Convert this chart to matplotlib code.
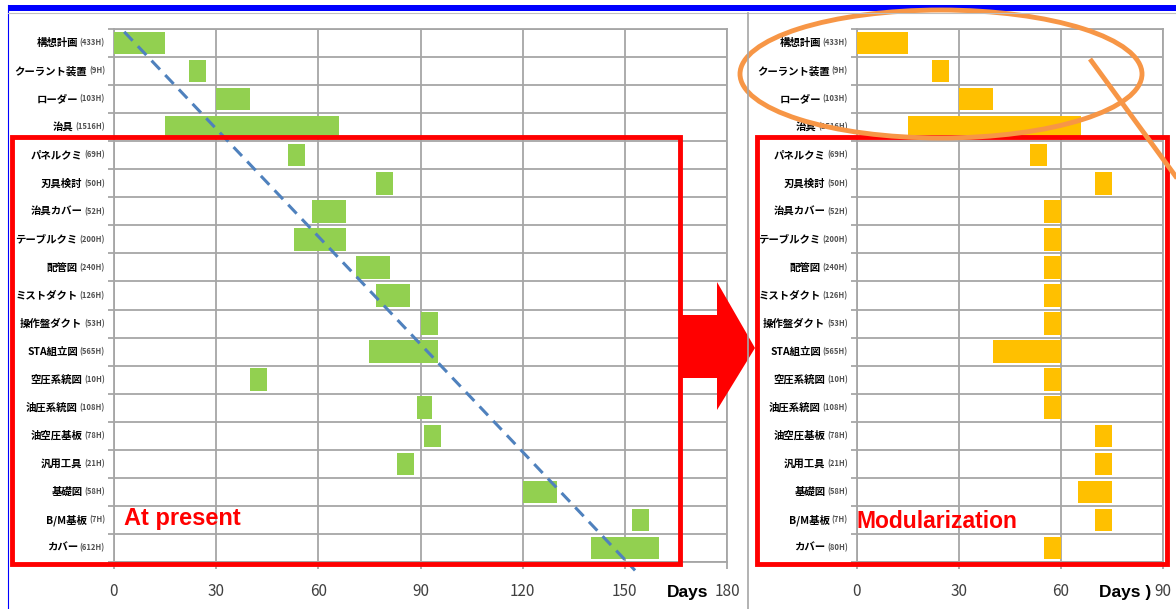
import numpy as np
import matplotlib.pyplot as plt
from matplotlib.patches import Rectangle, Ellipse, Polygon

plt.rcParams['font.family'] = ['Noto Sans CJK JP', 'DejaVu Sans']

# tasks, top to bottom
tasks = ["構想計画", "クーラント装置", "ローダー", "治具", "パネルクミ", "刃具検討",
         "治具カバー", "テーブルクミ", "配管図", "ミストダクト", "操作盤ダクト",
         "STA組立図", "空圧系統図", "油圧系統図", "油空圧基板", "汎用工具",
         "基礎図", "B/M基板", "カバー"]
hours_now = [433, 9, 103, 1516, 69, 50, 52, 200, 240, 126, 53, 565, 10, 108, 78, 21, 58, 7, 612]
hours_mod = [433, 9, 103, 1516, 69, 50, 52, 200, 240, 126, 53, 565, 10, 108, 78, 21, 58, 7, 80]

# at present: start day / duration
start_now = [0, 22, 30, 15, 51, 77, 58, 53, 71, 77, 90, 75, 40, 89, 91, 83, 120, 152, 140]
dur_now = [15, 5, 10, 51, 5, 5, 10, 15, 10, 10, 5, 20, 5, 4.5, 5, 5, 10, 5, 20]

# modularization
start_mod = [0, 22, 30, 15, 51, 70, 55, 55, 55, 55, 55, 40, 55, 55, 70, 70, 65, 70, 55]
dur_mod = [15, 5, 10, 51, 5, 5, 5, 5, 5, 5, 5, 20, 5, 5, 5, 5, 10, 5, 5]

# dashed trend across the present schedule (day, row)
trend_days = [3, 153]
trend_rows = [-0.4, 18.8]

W, H = 1176, 609
GRID = '#a6a6a6'
fig = plt.figure(figsize=(W / 100, H / 100), dpi=100)


def px_axes(x0, x1, y0, y1):
    return fig.add_axes([x0 / W, 1 - y1 / H, (x1 - x0) / W, (y1 - y0) / H])


def gantt(ax, start, dur, hours, color, xmax):
    n = len(tasks)
    rows = np.arange(n)
    ax.barh(rows, dur, left=start, height=0.8, color=color, zorder=3)
    ax.set_xlim(0, xmax)
    ax.set_ylim(n - 0.5, -0.5)
    ax.set_xticks(np.arange(0, xmax + 1, 30))
    ax.set_yticks(np.arange(n + 1) - 0.5)
    ax.set_yticklabels([])
    ax.grid(True, color=GRID, lw=1.3, zorder=0)
    ax.tick_params(axis='x', length=5, width=1.3, color=GRID, labelsize=11,
                   labelcolor='#404040', pad=10)
    ax.tick_params(axis='y', length=4, width=1.3, color=GRID)
    for s in ax.spines.values():
        s.set_color(GRID)
        s.set_linewidth(1.3)
    for i in rows:
        ht = ax.annotate(f"({hours[i]}H)", xy=(0, i), xycoords=('axes fraction', 'data'),
                         xytext=(-9, 0), textcoords='offset pixels', ha='right', va='center',
                         fontsize=5.5, color='#505050', fontweight='bold')
        ax.annotate(tasks[i], xy=(0, 0.5), xycoords=ht, xytext=(-2, 0),
                    textcoords='offset pixels', ha='right', va='center',
                    fontsize=7.5, fontweight='bold', color='black')


ax1 = px_axes(114, 727, 29, 562)
gantt(ax1, start_now, dur_now, hours_now, '#92d050', 180)
ax1.plot(trend_days, trend_rows, ls=(0, (4, 2.5)), color='#4f81bd', lw=2.2,
         zorder=4, clip_on=False)

ax2 = px_axes(857, 1163, 29, 562)
gantt(ax2, start_mod, dur_mod, hours_mod, '#ffc000', 90)

# overlay in pixel coordinates for frame and callouts
ov = fig.add_axes([0, 0, 1, 1], zorder=10)
ov.set_xlim(0, W)
ov.set_ylim(H, 0)
ov.axis('off')
ov.patch.set_alpha(0)

ov.add_patch(Rectangle((8, 5), W - 8, 6, color='#0000ff', lw=0))
ov.plot([8, 8], [5, H], color='#0000ff', lw=0.8)
ov.plot([8, W], [13, 13], color='#bfbfbf', lw=0.8)
ov.plot([748, 748], [13, H], color='#a6a6a6', lw=1.2)

ov.add_patch(Rectangle((12, 137), 668, 427, fill=False, ec='#ff0000', lw=3.5))
ov.add_patch(Rectangle((757, 137), 410, 427, fill=False, ec='#ff0000', lw=3.5))
ov.add_patch(Polygon([(680, 315), (717, 315), (717, 282), (755, 348),
                      (717, 410), (717, 378), (680, 378)], closed=True,
                     color='#ff0000', lw=0))
ov.add_patch(Ellipse((941, 74), 402, 128, fill=False, ec='#f79646', lw=3.5))
ov.plot([1090, 1190], [59, 196], color='#f79646', lw=3.5, solid_capstyle='butt')

ov.text(124, 518, "At present", color='#ff0000', fontsize=17, fontweight='bold',
        family='Liberation Sans', ha='left', va='center')
ov.text(857, 522, "Modularization", color='#ff0000', fontsize=16.5, fontweight='bold',
        family='Liberation Sans', ha='left', va='center')
ov.text(688, 593, "Days", color='black', fontsize=12.5, fontweight='bold',
        family='Liberation Sans', ha='center', va='center')
ov.text(1125, 593, "Days )", color='black', fontsize=12.5, fontweight='bold',
        family='Liberation Sans', ha='center', va='center')

fig.savefig('out.png', dpi=100)
